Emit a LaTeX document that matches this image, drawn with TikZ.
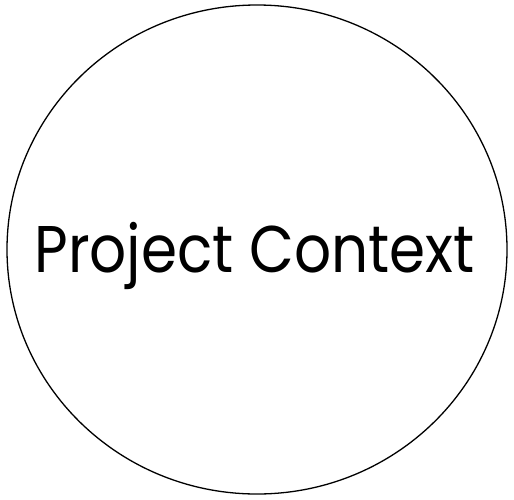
\documentclass[tikz,border=0pt]{standalone}
\usepackage{fontspec}
\setmainfont{Poppins}
\usetikzlibrary{shapes.geometric}
\begin{document}
\begin{tikzpicture}[x=1pt,y=-1pt]
\useasboundingbox (0,0) rectangle (514,499);
\node[draw,ellipse,line width=1.3pt,minimum width=500pt,minimum height=489pt,inner sep=0pt] (ctx) at (257,249.5) {};
\node[font=\fontsize{66}{70}\selectfont,anchor=base,inner sep=0pt] (lbl) at (254.5,272) {\scalebox{0.88}[1]{Project Context}};
\end{tikzpicture}
\end{document}
